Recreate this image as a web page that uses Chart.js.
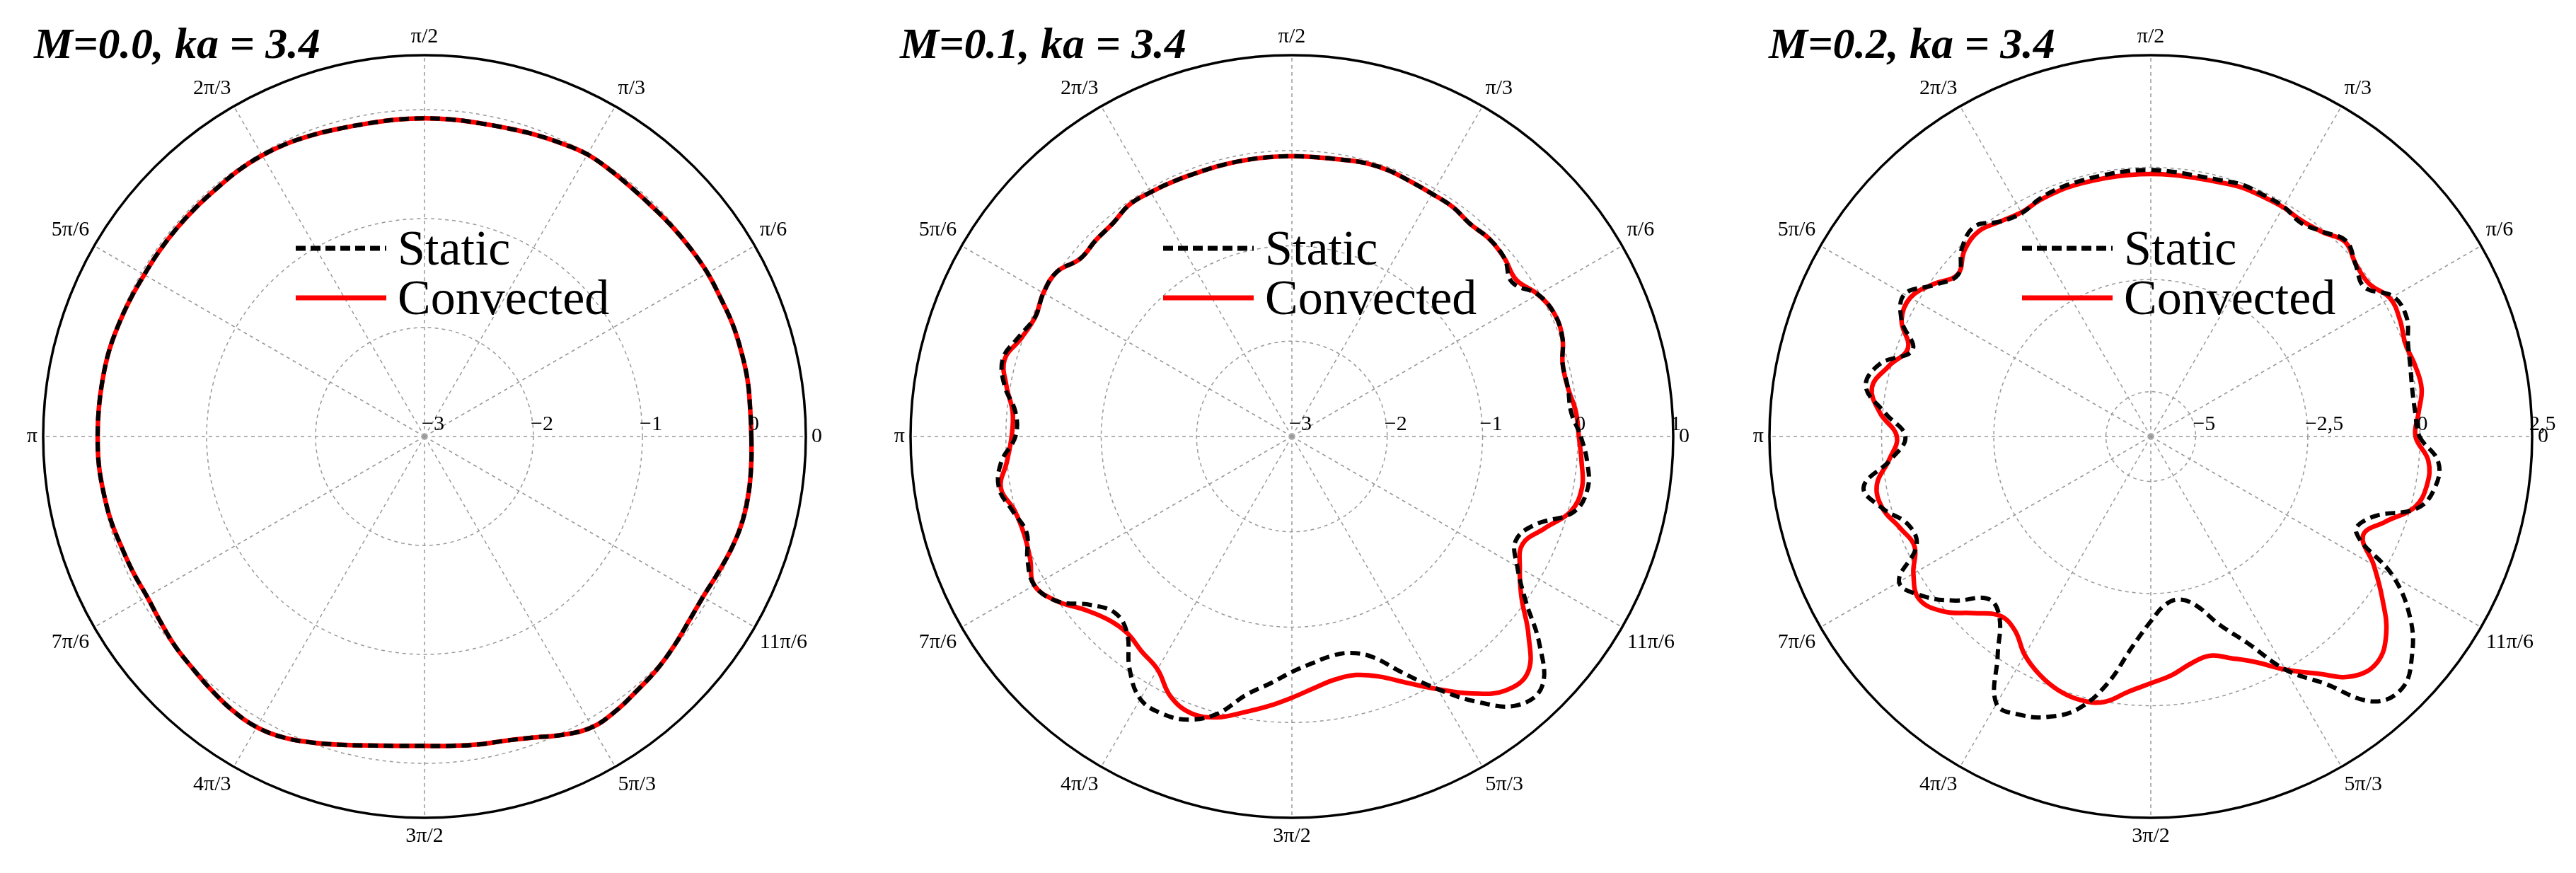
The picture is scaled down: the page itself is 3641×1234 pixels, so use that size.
<!DOCTYPE html>
<html>
<head>
<meta charset="utf-8">
<script src="https://cdn.jsdelivr.net/npm/chart.js@4.4.1/dist/chart.umd.min.js"></script>
<style>
  body { margin: 0; background: #fff; width: 3641px; height: 1234px; overflow: hidden; font-family: "Liberation Serif", serif; }
  .panel { position: absolute; top: 0; width: 1200px; height: 1234px; }
  .panel canvas { position: absolute; left: 0; top: 0; }
  .title { position: absolute; font: italic bold 62px "Liberation Serif", serif; white-space: nowrap; }
  .legend { position: absolute; font-size: 70px; line-height: 70px; white-space: nowrap; }
  .legend div { display: flex; align-items: center; }
  .legend svg { margin-right: 16px; }
</style>
</head>
<body>
<script>
// angles in degrees (counter-clockwise from east), every 5 deg
const angles = [];
for (let a = 0; a < 360; a += 5) angles.push(a);
const angleNames = { 0: '0', 30: 'π/6', 60: 'π/3', 90: 'π/2', 120: '2π/3', 150: '5π/6', 180: 'π',
  210: '7π/6', 240: '4π/3', 270: '3π/2', 300: '5π/3', 330: '11π/6' };

// M = 0.0
const staticM0 = [0.0,0.0,0.01,0.01,0.01,0.0,0.0,-0.01,-0.02,-0.03,-0.03,-0.02,-0.01,-0.03,-0.05,-0.07,-0.08,-0.08,
  -0.08,-0.08,-0.08,-0.07,-0.05,-0.03,-0.02,-0.02,-0.03,-0.03,-0.03,-0.03,-0.03,-0.02,-0.01,0.0,0.0,0.0,
  0.0,0.0,-0.01,-0.02,-0.04,-0.05,-0.06,-0.04,-0.01,0.01,0.04,0.07,0.08,0.05,-0.01,-0.07,-0.12,-0.15,
  -0.16,-0.15,-0.13,-0.11,-0.06,0.02,0.08,0.07,0.04,0.02,-0.01,-0.04,-0.05,-0.03,0.0,0.02,0.02,0.01];
const convM0 = [0.0,0.0,0.01,0.01,0.01,0.0,0.0,-0.01,-0.02,-0.03,-0.03,-0.02,-0.01,-0.03,-0.05,-0.07,-0.08,-0.08,
  -0.08,-0.08,-0.08,-0.07,-0.05,-0.03,-0.02,-0.02,-0.03,-0.03,-0.03,-0.03,-0.03,-0.02,-0.01,0.0,0.0,0.0,
  0.0,0.0,-0.01,-0.02,-0.04,-0.05,-0.06,-0.04,-0.01,0.01,0.04,0.07,0.08,0.05,-0.01,-0.07,-0.12,-0.15,
  -0.16,-0.15,-0.13,-0.11,-0.06,0.02,0.08,0.07,0.04,0.02,-0.01,-0.04,-0.05,-0.03,0.0,0.02,0.02,0.01];

// M = 0.1
const staticM1 = [0.03,-0.06,-0.06,-0.06,0.02,0.04,-0.02,-0.18,-0.09,-0.07,-0.09,-0.06,-0.06,-0.05,-0.03,-0.03,-0.05,-0.06,
  -0.06,-0.06,-0.06,-0.06,-0.06,-0.05,-0.04,-0.03,-0.08,-0.09,-0.10,0.01,0.01,-0.03,0.05,0.14,0.06,-0.09,
  -0.10,0.06,0.12,0.03,-0.04,0.06,0.12,0.01,-0.25,-0.38,-0.31,-0.03,0.18,0.21,0.16,0.01,-0.25,-0.40,
  -0.53,-0.61,-0.66,-0.65,-0.54,-0.27,0.06,0.40,0.68,0.71,0.39,-0.01,-0.27,-0.41,-0.29,0.06,0.15,0.11];
const convM1 = [0.01,-0.01,-0.06,-0.06,0.02,0.04,-0.02,-0.13,-0.09,-0.07,-0.09,-0.06,-0.06,-0.05,-0.03,-0.03,-0.05,-0.06,
  -0.06,-0.06,-0.06,-0.06,-0.06,-0.05,-0.04,-0.03,-0.08,-0.09,-0.10,0.01,0.01,-0.03,0.02,0.12,0.04,-0.06,
  -0.06,0.0,0.10,0.01,-0.01,0.03,0.12,0.01,-0.17,-0.28,-0.31,-0.25,-0.18,0.01,0.09,0.05,-0.06,-0.16,
  -0.26,-0.35,-0.41,-0.41,-0.32,-0.15,0.06,0.29,0.48,0.50,0.24,-0.06,-0.24,-0.33,-0.18,0.03,0.09,0.05];

// M = 0.2
const staticM2 = [-0.01,-0.08,-0.08,-0.01,0.10,0.29,0.24,-0.19,-0.04,0.16,-0.04,-0.18,-0.08,-0.06,-0.03,-0.08,-0.10,-0.08,
  -0.06,-0.06,-0.08,-0.09,-0.10,-0.15,-0.25,-0.15,0.11,-0.05,-0.39,-0.11,0.34,0.13,-0.35,0.25,0.45,-0.06,
  -0.53,-0.19,0.50,0.19,-0.25,-0.24,0.48,0.20,-0.31,-0.88,-0.75,-0.05,0.88,0.85,0.65,0.29,-0.40,-1.30,
  -1.88,-2.24,-2.31,-2.10,-1.54,-0.93,0.0,0.71,1.71,1.93,1.60,1.06,0.24,-0.95,-0.75,0.16,0.44,0.43];
const convM2 = [-0.10,-0.01,0.13,0.10,0.04,0.13,0.16,-0.06,-0.03,0.13,-0.05,-0.13,-0.10,-0.10,-0.09,-0.13,-0.15,-0.15,
  -0.15,-0.15,-0.15,-0.15,-0.15,-0.18,-0.23,-0.15,-0.03,-0.13,-0.38,-0.08,0.19,0.13,-0.24,0.05,0.31,0.06,
  -0.34,-0.15,0.20,0.19,-0.05,-0.19,0.11,0.31,0.06,-0.43,-0.78,-0.72,-0.38,-0.14,0.02,0.08,0.01,-0.29,
  -0.50,-0.66,-0.86,-0.94,-0.74,-0.45,0.0,0.45,0.98,1.13,0.85,0.30,-0.26,-0.78,-0.44,0.09,0.25,0.21];

const ticksM0 = [-3, -2, -1, 0, 0.5];
const tickLabelsM0 = ['−3', '−2', '−1', '0', ''];
const ticksM1 = [-3, -2, -1, 0, 1];
const tickLabelsM1 = ['−3', '−2', '−1', '0', '1'];
const ticksM2 = [-6, -5, -2.5, 0, 2.5];
const tickLabelsM2 = ['', '−5', '−2,5', '0', '2,5'];

const titles = ['M=0.0, ka = 3.4', 'M=0.1, ka = 3.4', 'M=0.2, ka = 3.4'];

// radar runs clockwise from east (startAngle 90): index i -> angle -5i
const order = angles.map((a, i) => (360 - 5 * i) % 360);
const reorder = arr => order.map(a => arr[a / 5]);

// radial tick labels drawn horizontally, just above the 0-angle axis
const tickLabelPlugin = {
  id: 'tickLabelPlugin',
  afterDraw(chart) {
    const s = chart.scales.r;
    const labels = chart.options.plugins.tickLabelPlugin.labels;
    const ctx = chart.ctx;
    ctx.save();
    ctx.font = '30px "Liberation Serif"';
    ctx.fillStyle = '#000';
    ctx.textBaseline = 'bottom';
    ctx.textAlign = 'left';
    s.ticks.forEach((t, i) => {
      if (!labels[i]) return;
      const d = s.getDistanceFromCenterForValue(t.value);
      ctx.fillText(labels[i], s.xCenter + d - 4, s.yCenter - 2);
    });
    ctx.restore();
  }
};

function makePanel(left, title, titleX, staticVals, convVals, tickVals, tickLabels) {
  const div = document.createElement('div');
  div.className = 'panel';
  div.style.left = left + 'px';
  div.innerHTML = `<canvas width="1200" height="1234"></canvas>
    <div class="title" style="left:${titleX}px;top:26px">${title}</div>
    <div class="legend" style="left:418px;top:316px">
      <div><svg width="128" height="20"><line x1="0" y1="10" x2="128" y2="10" stroke="#000" stroke-width="7" stroke-dasharray="14,7"/></svg>Static</div>
      <div><svg width="128" height="20"><line x1="0" y1="10" x2="128" y2="10" stroke="#f00" stroke-width="7"/></svg>Convected</div>
    </div>`;
  document.body.appendChild(div);
  const last = tickVals.length - 1;
  new Chart(div.querySelector('canvas'), {
    type: 'radar',
    data: {
      labels: order,
      datasets: [
        { label: 'Static', data: reorder(staticVals), borderColor: '#000', borderWidth: 6,
          borderDash: [14, 8], pointRadius: 0, fill: false, tension: 0.4 },
        { label: 'Convected', data: reorder(convVals), borderColor: '#f00', borderWidth: 6.5,
          pointRadius: 0, fill: false, tension: 0.4 }
      ]
    },
    plugins: [tickLabelPlugin],
    options: {
      responsive: false,
      animation: false,
      layout: { padding: { top: 34, bottom: 34, left: 0, right: 0 } },
      plugins: { legend: { display: false }, tooltip: { enabled: false },
        tickLabelPlugin: { labels: tickLabels } },
      scales: {
        r: {
          startAngle: 90,
          min: tickVals[0],
          max: tickVals[last],
          afterBuildTicks: s => { s.ticks = tickVals.map(v => ({ value: v })); },
          ticks: { display: false },
          grid: {
            circular: true,
            color: c => c.index === last ? '#000' : '#999',
            lineWidth: c => c.index === last ? 3.5 : 1.5
          },
          border: { dash: c => c.index === last ? [] : [5, 5] },
          angleLines: {
            color: c => c.index % 6 === 0 ? '#999' : 'rgba(0,0,0,0)',
            lineWidth: 1.5,
            borderDash: [5, 5]
          },
          pointLabels: {
            callback: lab => angleNames[lab] !== undefined ? angleNames[lab] : '',
            color: '#000',
            padding: 8,
            font: { family: 'Liberation Serif', size: 30 }
          }
        }
      }
    }
  });
}

makePanel(0, titles[0], 48, staticM0, convM0, ticksM0, tickLabelsM0);
makePanel(1226, titles[1], 46, staticM1, convM1, ticksM1, tickLabelsM1);
makePanel(2440, titles[2], 60, staticM2, convM2, ticksM2, tickLabelsM2);
</script>
</body>
</html>
